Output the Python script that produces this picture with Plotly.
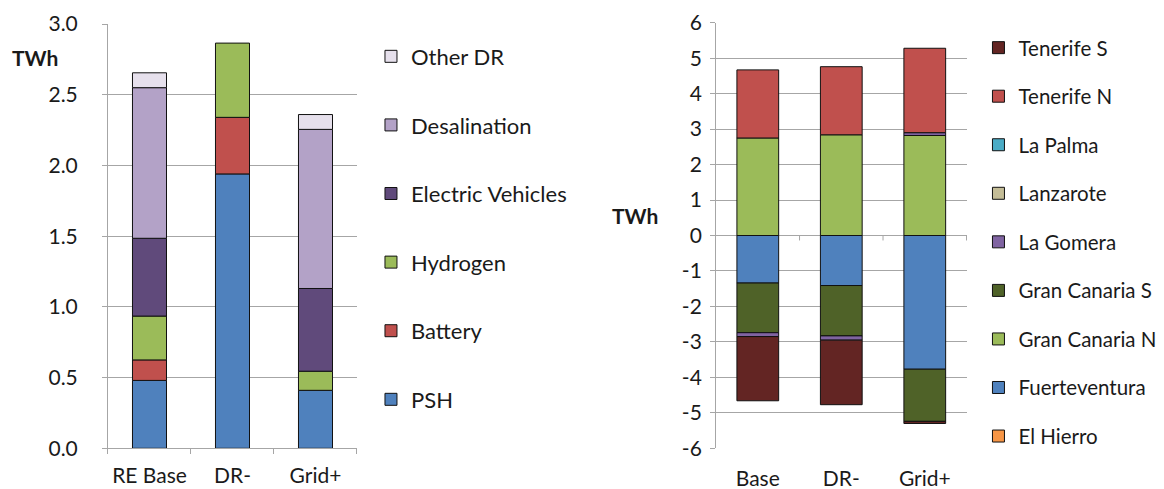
import plotly.graph_objects as go

# Left chart data
left_categories = ["RE Base", "DR-", "Grid+"]
psh = [0.48, 1.94, 0.41]
battery = [0.145, 0.40, 0.0]
hydrogen = [0.31, 0.525, 0.135]
electric_vehicles = [0.55, 0.0, 0.585]
desalination = [1.065, 0.0, 1.125]
other_dr = [0.105, 0.0, 0.105]
left_ticks = [0, 0.5, 1.0, 1.5, 2.0, 2.5, 3.0]
left_tick_labels = ["0.0", "0.5", "1.0", "1.5", "2.0", "2.5", "3.0"]

left_series = [
    ("PSH", psh, "#4F81BD"),
    ("Battery", battery, "#C0504D"),
    ("Hydrogen", hydrogen, "#9BBB59"),
    ("Electric Vehicles", electric_vehicles, "#604A7B"),
    ("Desalination", desalination, "#B3A2C7"),
    ("Other DR", other_dr, "#E6E0EC"),
]

# Right chart data
right_categories = ["Base", "DR-", "Grid+"]
el_hierro = [0.0, 0.0, 0.0]
fuerteventura = [-1.34, -1.41, -3.77]
gran_canaria_n = [2.75, 2.84, 2.82]
gran_canaria_s = [-1.40, -1.42, -1.47]
la_gomera = [-0.11, -0.12, 0.08]
lanzarote = [0.0, 0.0, 0.0]
la_palma = [0.0, 0.0, 0.0]
tenerife_n = [1.92, 1.92, 2.38]
tenerife_s = [-1.81, -1.82, -0.06]
right_ticks = [-6, -5, -4, -3, -2, -1, 0, 1, 2, 3, 4, 5, 6]
right_tick_labels = ["-6", "-5", "-4", "-3", "-2", "-1", "0", "1", "2", "3", "4", "5", "6"]

right_series = [
    ("El Hierro", el_hierro, "#F79646"),
    ("Fuerteventura", fuerteventura, "#4F81BD"),
    ("Gran Canaria N", gran_canaria_n, "#9BBB59"),
    ("Gran Canaria S", gran_canaria_s, "#4F6228"),
    ("La Gomera", la_gomera, "#8064A2"),
    ("Lanzarote", lanzarote, "#C4BD97"),
    ("La Palma", la_palma, "#4BACC6"),
    ("Tenerife N", tenerife_n, "#C0504D"),
    ("Tenerife S", tenerife_s, "#632523"),
]

FONT = "Lato, Calibri, sans-serif"
GRID = "#A6A6A6"
TXT = "#1a1a1a"

W, H = 1156, 481  # page body adds an 8px offset


def nz(vals):
    return [v if v != 0 else None for v in vals]


fig = go.Figure()

for i, (name, vals, col) in enumerate(left_series):
    fig.add_trace(go.Bar(
        x=left_categories, y=nz(vals), name=name, legendgroup="L" + name,
        legendrank=1000 - i,
        marker=dict(color=col, line=dict(color="#111111", width=1)),
        width=0.41, xaxis="x", yaxis="y", legend="legend",
    ))

for i, (name, vals, col) in enumerate(right_series):
    fig.add_trace(go.Bar(
        x=right_categories, y=nz(vals), name=name, legendgroup="R" + name,
        legendrank=1000 - i,
        marker=dict(color=col, line=dict(color="#111111", width=1)),
        width=0.5, xaxis="x2", yaxis="y2", legend="legend2",
    ))

axis_font = dict(family=FONT, size=21, color=TXT)

fig.update_layout(
    width=W, height=H,
    margin=dict(l=0, r=0, t=0, b=0, autoexpand=False),
    paper_bgcolor="white", plot_bgcolor="white",
    barmode="relative",
    font=dict(family=FONT, color=TXT),
    xaxis=dict(
        domain=[0.0865, 0.3019], anchor="y", automargin=False, tickangle=0,
        showline=True, linecolor=GRID, linewidth=1,
        ticks="outside", tickson="boundaries", ticklen=5, tickcolor=GRID,
        tickfont=axis_font, showgrid=False, ticklabelstandoff=8,
    ),
    yaxis=dict(
        domain=[0.0846, 0.9667], anchor="x", range=[0, 3.0], automargin=False,
        tickvals=left_ticks, ticktext=left_tick_labels,
        showgrid=True, gridcolor=GRID, gridwidth=1,
        showline=True, linecolor=GRID, linewidth=1,
        ticks="outside", ticklen=5, tickcolor=GRID,
        tickfont=axis_font, zeroline=False, ticklabelstandoff=20,
    ),
    xaxis2=dict(
        domain=[0.6125, 0.8296], anchor="y2", automargin=False, tickangle=0,
        showline=False, ticks="", tickfont=axis_font, showgrid=False,
        ticklabelstandoff=16,
    ),
    yaxis2=dict(
        domain=[0.0846, 0.9694], anchor="x2", range=[-6, 6], automargin=False,
        tickvals=right_ticks, ticktext=right_tick_labels,
        showgrid=True, gridcolor=GRID, gridwidth=1,
        showline=True, linecolor=GRID, linewidth=1,
        ticks="outside", ticklen=5, tickcolor=GRID,
        tickfont=axis_font, zeroline=True, zerolinecolor=GRID, zerolinewidth=1,
        ticklabelstandoff=4,
    ),
    legend=dict(
        x=0.314, y=0.9428, xanchor="left", yanchor="top",
        traceorder="grouped", tracegroupgap=37,
        font=dict(family=FONT, size=22, color=TXT),
        bgcolor="rgba(0,0,0,0)", itemwidth=30,
    ),
    legend2=dict(
        x=0.8395, y=0.9588, xanchor="left", yanchor="top",
        traceorder="grouped", tracegroupgap=18.9,
        font=dict(family=FONT, size=20.5, color=TXT),
        bgcolor="rgba(0,0,0,0)", itemwidth=30,
    ),
    annotations=[
        dict(text="<b>TWh</b>", x=0.002, y=0.898, xref="paper", yref="paper",
             xanchor="left", yanchor="middle", showarrow=False,
             font=dict(family=FONT, size=21, color=TXT)),
        dict(text="<b>TWh</b>", x=0.5208, y=0.5696, xref="paper", yref="paper",
             xanchor="left", yanchor="middle", showarrow=False,
             font=dict(family=FONT, size=21, color=TXT)),
    ],
)

# category boundary tick marks on the zero line of the right chart
for xb in [0.5, 1.5, 2.5]:
    fig.add_shape(type="line", xref="x2", yref="y2", x0=xb, x1=xb, y0=0, y1=-0.14,
                  line=dict(color=GRID, width=1))

fig.write_html("out.html")
